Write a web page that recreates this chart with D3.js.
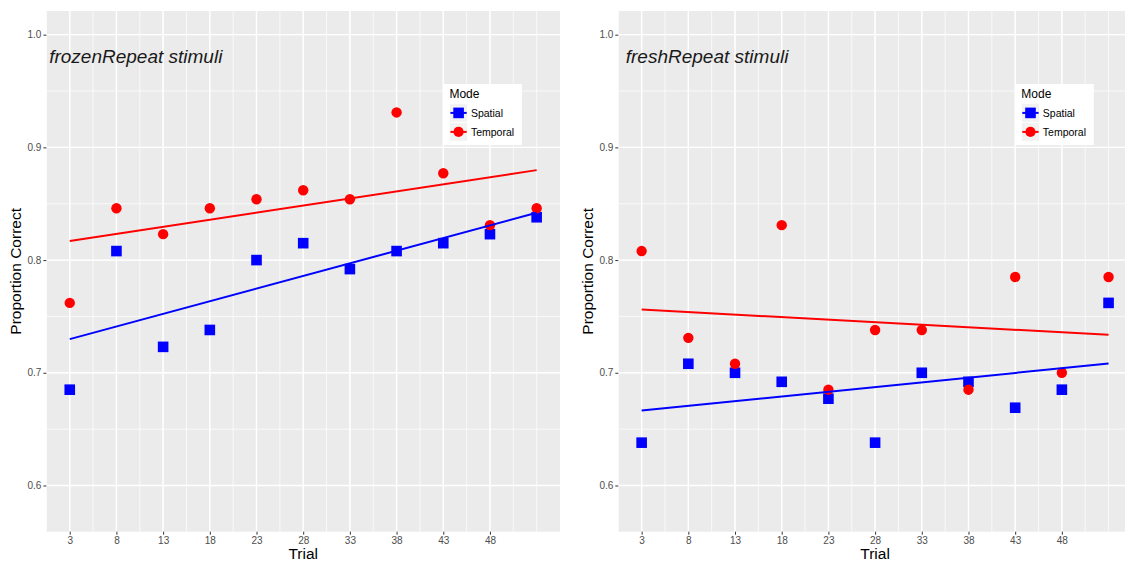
<!DOCTYPE html>
<html>
<head>
<meta charset="utf-8">
<script src="https://cdn.jsdelivr.net/npm/d3@7"></script>
<style>
  body { margin: 0; background: #fff; }
  svg { display: block; font-family: "Liberation Sans", Arial, sans-serif; }
  .tick text { fill: #4d4d4d; font-size: 10px; }
  .tick line { stroke: #333; }
</style>
</head>
<body>
<svg id="chart" width="1125" height="562"></svg>
<script>
// trial numbers and proportion correct
const trials = [3, 8, 13, 18, 23, 28, 33, 38, 43, 48, 53]
const frozenSpatial  = [0.685, 0.808, 0.723, 0.738, 0.800, 0.815, 0.792, 0.808, 0.815, 0.823, 0.838]
const frozenTemporal = [0.762, 0.846, 0.823, 0.846, 0.854, 0.862, 0.854, 0.931, 0.877, 0.831, 0.846]
const freshSpatial   = [0.638, 0.708, 0.700, 0.692, 0.677, 0.638, 0.700, 0.692, 0.669, 0.685, 0.762]
const freshTemporal  = [0.808, 0.731, 0.708, 0.831, 0.685, 0.738, 0.738, 0.685, 0.785, 0.700, 0.785]

const xTicks = [3, 8, 13, 18, 23, 28, 33, 38, 43, 48]
const yTicks = [0.6, 0.7, 0.8, 0.9, 1.0]
const yLimits = [0.58, 1.0]
const modes = ["Spatial", "Temporal"]
const modeColors = ["#0000ff", "#ff0000"]

const svg = d3.select("#chart")

function expand(ext, pad = .05) {
    let d = ext[1] - ext[0]
    return [ext[0] - pad * d, ext[1] + pad * d]
}

// least squares line, like geom_smooth(method = "lm")
function lm(X, Y) {
    let mx = d3.mean(X), my = d3.mean(Y)
    let b = d3.sum(X, (x, i) => (x - mx) * (Y[i] - my)) / d3.sum(X, x => (x - mx) * (x - mx))
    return x => my + b * (x - mx)
}

function draw_panel(left, title, titleX, spatial, temporal) {
    const top = 11, bottom = 531.7, width = 513.6
    let g = svg.append("g")

    let xScale = d3.scaleLinear().domain(expand(d3.extent(trials))).range([left, left + width])
    let yScale = d3.scaleLinear().domain(expand(yLimits)).range([bottom, top])

    g.append("rect")
        .attr("x", left).attr("y", top)
        .attr("width", width).attr("height", bottom - top)
        .attr("fill", "#ebebeb")

    // minor grid every half step, major on the breaks
    let xd = xScale.domain(), yd = yScale.domain()
    let xMinor = d3.range(xTicks[0] - 5, xd[1], 2.5).filter(v => v >= xd[0])
    let yMinor = d3.range(0.55, yd[1], 0.05).filter(v => v >= yd[0])
    g.selectAll(".xminor").data(xMinor).enter().append("line")
        .attr("x1", d => xScale(d)).attr("x2", d => xScale(d))
        .attr("y1", top).attr("y2", bottom)
        .attr("stroke", "#fff").attr("stroke-width", 0.7)
    g.selectAll(".yminor").data(yMinor).enter().append("line")
        .attr("x1", left).attr("x2", left + width)
        .attr("y1", d => yScale(d)).attr("y2", d => yScale(d))
        .attr("stroke", "#fff").attr("stroke-width", 0.7)
    g.selectAll(".xmajor").data(xTicks).enter().append("line")
        .attr("x1", d => xScale(d)).attr("x2", d => xScale(d))
        .attr("y1", top).attr("y2", bottom)
        .attr("stroke", "#fff").attr("stroke-width", 1.4)
    g.selectAll(".ymajor").data(yTicks).enter().append("line")
        .attr("x1", left).attr("x2", left + width)
        .attr("y1", d => yScale(d)).attr("y2", d => yScale(d))
        .attr("stroke", "#fff").attr("stroke-width", 1.4)

    // points
    g.selectAll(".sq").data(spatial).enter().append("rect")
        .attr("x", (d, i) => xScale(trials[i]) - 5.3)
        .attr("y", d => yScale(d) - 5.3)
        .attr("width", 10.6).attr("height", 10.6)
        .attr("fill", modeColors[0])
    g.selectAll(".dot").data(temporal).enter().append("circle")
        .attr("cx", (d, i) => xScale(trials[i]))
        .attr("cy", d => yScale(d))
        .attr("r", 5.2)
        .attr("fill", modeColors[1])

    // fitted lines
    ;[spatial, temporal].forEach(function (Y, k) {
        let f = lm(trials, Y)
        let ends = d3.extent(trials)
        g.append("path")
            .attr("d", d3.line().x(d => xScale(d)).y(d => yScale(f(d)))(ends))
            .attr("stroke", modeColors[k]).attr("stroke-width", 2).attr("fill", "none")
    })

    // axes
    let x_axis = d3.axisBottom(xScale).tickValues(xTicks).tickSize(3).tickPadding(2.5)
    let y_axis = d3.axisLeft(yScale).tickValues(yTicks).tickSize(3).tickPadding(2).tickFormat(d3.format(".1f"))
    g.append("g").attr("transform", `translate(0,${bottom})`).call(x_axis)
        .call(a => a.select(".domain").remove())
    g.append("g").attr("transform", `translate(${left},0)`).call(y_axis)
        .call(a => a.select(".domain").remove())
    g.selectAll(".tick text").attr("font-family", null).attr("font-size", null)

    // axis titles
    g.append("text")
        .attr("x", left + width / 2).attr("y", 559)
        .attr("text-anchor", "middle")
        .style("font-size", "15.5px")
        .text("Trial")
    g.append("text")
        .attr("transform", `translate(${left - 25.5},${(top + bottom) / 2}) rotate(270)`)
        .attr("text-anchor", "middle")
        .style("font-size", "15.5px")
        .text("Proportion Correct")

    // annotation
    g.append("text")
        .attr("x", xScale(titleX)).attr("y", yScale(0.98))
        .attr("dy", "0.32em")
        .style("font-size", "19px").style("font-style", "italic")
        .attr("fill", "#1a1a1a")
        .text(title)

    // legend
    let lx = left + 397, ly = 84
    let lgnd = g.append("g").attr("transform", `translate(${lx},${ly})`)
    lgnd.append("rect").attr("width", 78.5).attr("height", 61).attr("fill", "#fff")
    lgnd.append("text").attr("x", 6).attr("y", 13.7).style("font-size", "12px").text("Mode")
    modes.forEach(function (m, i) {
        let ky = 20 + i * 19
        let key = lgnd.append("g").attr("transform", `translate(6.5,${ky})`)
        key.append("rect").attr("width", 17.3).attr("height", 17.8).attr("fill", "#f2f2f2")
        key.append("line").attr("x1", 0.5).attr("x2", 16.8).attr("y1", 8.9).attr("y2", 8.9)
            .attr("stroke", modeColors[i]).attr("stroke-width", 2)
        if (i === 0) {
            key.append("rect").attr("x", 3.4).attr("y", 3.6).attr("width", 10.6).attr("height", 10.6).attr("fill", modeColors[i])
        } else {
            key.append("circle").attr("cx", 8.65).attr("cy", 8.9).attr("r", 5.1).attr("fill", modeColors[i])
        }
        lgnd.append("text").attr("x", 27.5).attr("y", ky + 12.7)
            .style("font-size", "10.5px").text(m)
    })
}

draw_panel(46.4, "frozenRepeat stimuli", 0.8, frozenSpatial, frozenTemporal)
draw_panel(618.3, "freshRepeat stimuli", 1.3, freshSpatial, freshTemporal)
</script>
</body>
</html>
